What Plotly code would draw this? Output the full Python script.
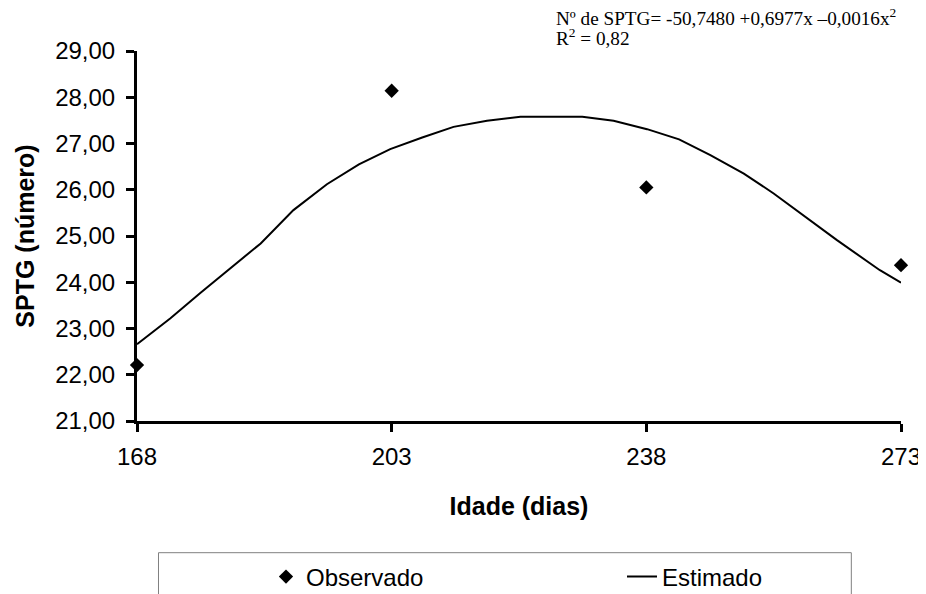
import plotly.graph_objects as go

# Observed data
idade_obs = [168, 203, 238, 273]
sptg_obs = [22.21, 28.14, 26.05, 24.37]

# Estimated (fitted) curve
idade_est = [168.0, 172.6, 176.7, 180.8, 185.0, 189.5, 194.1, 198.5, 202.8, 207.2,
             211.5, 216.1, 220.7, 229.2, 233.5, 238.1, 242.5, 246.8, 251.4, 255.5,
             259.6, 264.2, 270.1, 273.0]
sptg_est = [22.66, 23.22, 23.77, 24.30, 24.84, 25.56, 26.12, 26.55, 26.88, 27.13,
            27.36, 27.49, 27.58, 27.58, 27.49, 27.31, 27.09, 26.75, 26.35, 25.92,
            25.45, 24.91, 24.26, 23.99]

x_ticks = [168, 203, 238, 273]
y_ticks = [21, 22, 23, 24, 25, 26, 27, 28, 29]
y_ticktext = ["21,00", "22,00", "23,00", "24,00", "25,00", "26,00", "27,00", "28,00", "29,00"]

OFF = 8  # page body margin offset
W, H = 926 - OFF, 594 - OFF
# target plot area in screen pixels
SL, ST, SR, SB = 136.5, 51, 900.7, 421
L, T = SL - OFF, ST - OFF
R = W - (SR - OFF)
B = H - (SB - OFF)

def px_x(p):
    return (p - SL) / (SR - SL)

def px_y(p):
    return (SB - p) / (SB - ST)

sans = "Liberation Sans, Arial, sans-serif"
serif = "Liberation Serif, Times New Roman, serif"

fig = go.Figure()
fig.add_trace(go.Scatter(
    x=idade_obs, y=sptg_obs, mode="markers", name="Observado",
    marker=dict(symbol="diamond", size=11, color="black"),
    cliponaxis=False, legendwidth=311,
))
fig.add_trace(go.Scatter(
    x=idade_est, y=sptg_est, mode="lines", name="Estimado",
    line=dict(color="black", width=2),
    cliponaxis=False, legendwidth=110,
))

fig.update_layout(
    width=W, height=H,
    margin=dict(l=L, r=R, t=T, b=B, pad=0, autoexpand=False),
    paper_bgcolor="white", plot_bgcolor="white",
    font=dict(family=sans, size=24, color="black"),
    showlegend=True,
    legend=dict(
        orientation="h",
        xref="container", yref="container",
        x=(266 - OFF) / W, xanchor="left",
        y=(H - (577 - OFF)) / H, yanchor="middle",
        font=dict(family=sans, size=24, color="black"),
        bgcolor="rgba(0,0,0,0)",
        borderwidth=0,
        itemclick=False,
    ),
    xaxis=dict(
        range=[168, 273], tickvals=x_ticks, ticktext=[str(v) for v in x_ticks],
        automargin=False,
        showline=True, linecolor="black", linewidth=3,
        ticks="outside", ticklen=8, tickwidth=3, tickcolor="black",
        ticklabelstandoff=4,
        showgrid=False, zeroline=False,
        tickfont=dict(family=sans, size=24),
        title=dict(text="<b>Idade (dias)</b>", font=dict(family=sans, size=25), standoff=29),
    ),
    yaxis=dict(
        range=[21, 29], tickvals=y_ticks, ticktext=y_ticktext,
        automargin=False,
        showline=True, linecolor="black", linewidth=3,
        ticks="outside", ticklen=8, tickwidth=3, tickcolor="black",
        ticklabelstandoff=6,
        showgrid=False, zeroline=False,
        tickfont=dict(family=sans, size=24),
        title=dict(text="<b>SPTG (número)</b>", font=dict(family=sans, size=25), standoff=14),
    ),
    shapes=[dict(
        type="rect", xref="paper", yref="paper",
        x0=px_x(158), x1=px_x(851), y0=px_y(552.7), y1=px_y(640),
        line=dict(color="#808080", width=1), fillcolor="rgba(0,0,0,0)",
    )],
    annotations=[
        dict(text="Nº de SPTG= -50,7480 +0,6977x –0,0016x<sup>2</sup>",
             xref="paper", yref="paper", x=px_x(554), y=px_y(17),
             xanchor="left", yanchor="middle", showarrow=False,
             font=dict(family=serif, size=19.2, color="black")),
        dict(text="R<sup>2</sup> = 0,82",
             xref="paper", yref="paper", x=px_x(554), y=px_y(37),
             xanchor="left", yanchor="middle", showarrow=False,
             font=dict(family=serif, size=19.2, color="black")),
    ],
)

fig.write_html("out.html")
